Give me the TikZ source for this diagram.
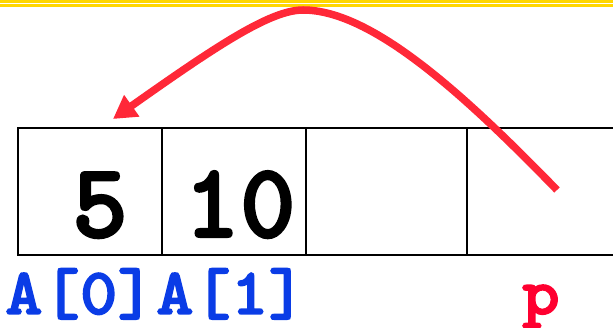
\documentclass[tikz,border=0pt]{standalone}
\usepackage{fontspec}
\usepackage{xcolor}
\usepackage{tikz}
\usetikzlibrary{arrows.meta, positioning, calc}
\newfontfamily\cifra[Extension=.otf,FakeBold=2.2]{lmmonolt10-bold}
\newfontfamily\etiq[Extension=.otf,FakeStretch=1.08,FakeBold=2.2]{lmmonolt10-bold}
\definecolor{Oro}      {RGB}{255,214,0}
\definecolor{Rojo}     {RGB}{255,40, 56}
\definecolor{RojoP}    {RGB}{255,0,  48}
\definecolor{AzulIdx}  {RGB}{10, 60, 230}

\begin{document}
\begin{tikzpicture}[x=1pt,y=-1pt,
    celda/.style={draw=black,line width=1.8pt,minimum height=127pt,inner sep=0pt,outer sep=0pt},
    valor/.style={anchor=base,inner sep=0pt,font=\fontsize{106}{106}\selectfont\cifra},
    indice/.style={anchor=base,inner sep=0pt,font=\fontsize{66}{66}\selectfont\etiq}]
  \useasboundingbox (0,0) rectangle (613,328);
  % franja superior
  \draw[Oro,line width=2.6pt] (0,1.3) -- (613,1.3);
  \draw[Oro,line width=2.6pt] (0,5.4) -- (613,5.4);
  % arreglo
  \node[celda,minimum width=144pt] (c0) at (90,191.5) {};
  \node[celda,minimum width=144pt,right=0pt of c0] (c1) {};
  \node[celda,minimum width=161pt,right=0pt of c1] (c2) {};
  \node[celda,minimum width=161pt,right=0pt of c2] (c3) {};
  \node[valor] (v0) at (100,237) {5};
  \node[valor] (v1) at (240,237) {10};
  \node[indice,AzulIdx] (i0) at (80,314) {A[0]};
  \node[indice,AzulIdx] (i1) at (231,314) {A[1]};
  \node[indice,RojoP] (ip) at (541,314) {p};
  % flecha de p hacia A[0]
  \coordinate (inicio) at (557,190);
  \coordinate (punta) at (113,119);
  \draw[Rojo,line width=7.5pt,-{Triangle[length=23pt,width=25pt]}]
    (inicio) .. controls (467,97.5) and (373,10) .. (303,10)
             .. controls (270,10) and (215,47) .. (punta);
\end{tikzpicture}
\end{document}
